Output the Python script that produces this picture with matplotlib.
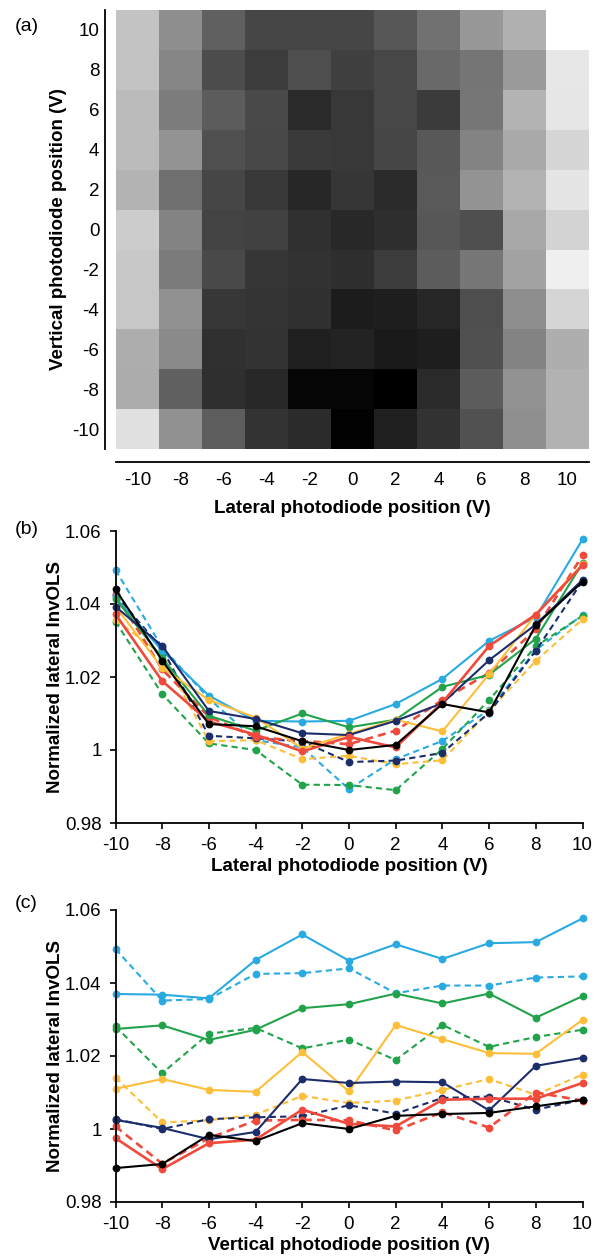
import numpy as np
import matplotlib.pyplot as plt
from matplotlib.ticker import FormatStrFormatter

plt.rcParams['font.family'] = ['Liberation Sans', 'DejaVu Sans']
plt.rcParams['axes.unicode_minus'] = False

# photodiode positions (V), used for both lateral and vertical axes
positions = [-10, -8, -6, -4, -2, 0, 2, 4, 6, 8, 10]

# normalized lateral InvOLS, one list per lateral position,
# values listed along the vertical position (-10 .. 10)
lat_m10 = [1.0493, 1.0352, 1.0356, 1.0425, 1.0427, 1.0440, 1.0372, 1.0393, 1.0393, 1.0415, 1.0418]
lat_m8  = [1.0281, 1.0153, 1.0261, 1.0277, 1.0221, 1.0245, 1.0189, 1.0285, 1.0225, 1.0252, 1.0272]
lat_m6  = [1.0141, 1.0018, 1.0024, 1.0039, 1.0091, 1.0071, 1.0078, 1.0107, 1.0137, 1.0094, 1.0149]
lat_m4  = [1.0027, 1.0000, 1.0027, 1.0032, 1.0035, 1.0065, 1.0042, 1.0085, 1.0089, 1.0053, 1.0080]
lat_m2  = [1.0007, 0.9905, 0.9975, 1.0023, 1.0025, 1.0024, 0.9996, 1.0046, 1.0004, 1.0100, 1.0078]
lat_0   = [0.9893, 0.9904, 0.9984, 0.9967, 1.0016, 1.0000, 1.0036, 1.0041, 1.0044, 1.0062, 1.0080]
lat_p2  = [0.9975, 0.9890, 0.9961, 0.9971, 1.0053, 1.0014, 1.0007, 1.0080, 1.0083, 1.0083, 1.0126]
lat_p4  = [1.0025, 1.0003, 0.9972, 0.9992, 1.0137, 1.0126, 1.0130, 1.0128, 1.0051, 1.0173, 1.0195]
lat_p6  = [1.0110, 1.0137, 1.0107, 1.0102, 1.0211, 1.0103, 1.0285, 1.0246, 1.0208, 1.0206, 1.0299]
lat_p8  = [1.0274, 1.0284, 1.0244, 1.0272, 1.0331, 1.0342, 1.0371, 1.0344, 1.0371, 1.0305, 1.0364]
lat_p10 = [1.0370, 1.0368, 1.0358, 1.0463, 1.0533, 1.0461, 1.0506, 1.0466, 1.0509, 1.0512, 1.0577]

# rows = vertical position, columns = lateral position
invols = np.column_stack([lat_m10, lat_m8, lat_m6, lat_m4, lat_m2, lat_0,
                          lat_p2, lat_p4, lat_p6, lat_p8, lat_p10])

# colour / line style used for each position
blue = '#29aae1'; green = '#22a34b'; yellow = '#fdbf3a'; navy = '#1c2d6b'; red = '#ef4a3c'
styles = {-10: (blue, '--'), 10: (blue, '-'),
          -8: (green, '--'), 8: (green, '-'),
          -6: (yellow, '--'), 6: (yellow, '-'),
          -4: (navy, '--'), 4: (navy, '-'),
          -2: (red, '--'), 2: (red, '-'),
          0: ('black', '-')}

FS = 13.5
fig = plt.figure(figsize=(5.97, 12.59), dpi=100)

# ---- (a) heatmap ----
axa = fig.add_axes([116/597, 1-449/1259, 473/597, 439/1259])
axa.imshow(invols, cmap='gray', origin='lower', extent=[-11, 11, -11, 11],
           aspect='auto', interpolation='nearest',
           vmin=invols.min(), vmax=invols.max())
axa.set_xticks(positions)
axa.set_yticks(positions)
axa.spines['top'].set_visible(False)
axa.spines['right'].set_visible(False)
axa.spines['left'].set_position(('outward', 8))
axa.spines['bottom'].set_position(('outward', 9.5))
axa.spines['left'].set_linewidth(1.3)
axa.spines['bottom'].set_linewidth(1.3)
axa.tick_params(length=0, labelsize=FS, pad=4)
axa.tick_params(axis='x', pad=7)
axa.set_xlabel('Lateral photodiode position (V)', fontsize=FS, weight='bold', labelpad=8)
axa.set_ylabel('Vertical photodiode position (V)', fontsize=FS, weight='bold', labelpad=4)


def style_line_axes(ax, xlabel):
    ax.set_xlim(-10, 10)
    ax.set_ylim(0.98, 1.06)
    ax.set_xticks(positions)
    ax.set_yticks([0.98, 1.0, 1.02, 1.04, 1.06])
    ax.yaxis.set_major_formatter(FormatStrFormatter('%g'))
    ax.spines['top'].set_visible(False)
    ax.spines['right'].set_visible(False)
    ax.spines['left'].set_linewidth(1.3)
    ax.spines['bottom'].set_linewidth(1.3)
    ax.tick_params(direction='out', length=4, width=1.2, labelsize=FS, pad=6)
    ax.set_xlabel(xlabel, fontsize=FS, weight='bold', labelpad=3)
    ax.set_ylabel('Normalized lateral InvOLS', fontsize=FS, weight='bold', labelpad=1)


def draw_series(ax, x, y, pos):
    color, ls = styles[pos]
    lw = 1.9 if color == red else 1.5
    if ls == '--':
        ls = (0, (3.0, 2.0))
    ax.plot(x, y, color=color, linestyle=ls, lw=lw, marker='o', markersize=5.6,
            markeredgewidth=0, clip_on=False, zorder=3 if pos == 0 else 2)


# draw order: dashed first, then solid, black last
order = [-10, -8, -6, -4, -2, 10, 8, 6, 4, 2, 0]

# ---- (b) InvOLS vs lateral position, one line per vertical position ----
axb = fig.add_axes([115.5/597, 1-823/1259, 467/597, 292/1259])
for v in order:
    draw_series(axb, positions, invols[positions.index(v), :], v)
style_line_axes(axb, 'Lateral photodiode position (V)')

# ---- (c) InvOLS vs vertical position, one line per lateral position ----
axc = fig.add_axes([115.5/597, 1-1202/1259, 467/597, 292/1259])
for l in order:
    draw_series(axc, positions, invols[:, positions.index(l)], l)
style_line_axes(axc, 'Vertical photodiode position (V)')

fig.text(15/597, 1-26.5/1259, '(a)', fontsize=14, va='center', ha='left')
fig.text(15/597, 1-530/1259, '(b)', fontsize=14, va='center', ha='left')
fig.text(15/597, 1-904/1259, '(c)', fontsize=14, va='center', ha='left')

fig.savefig('out.png', dpi=100, facecolor='white')
